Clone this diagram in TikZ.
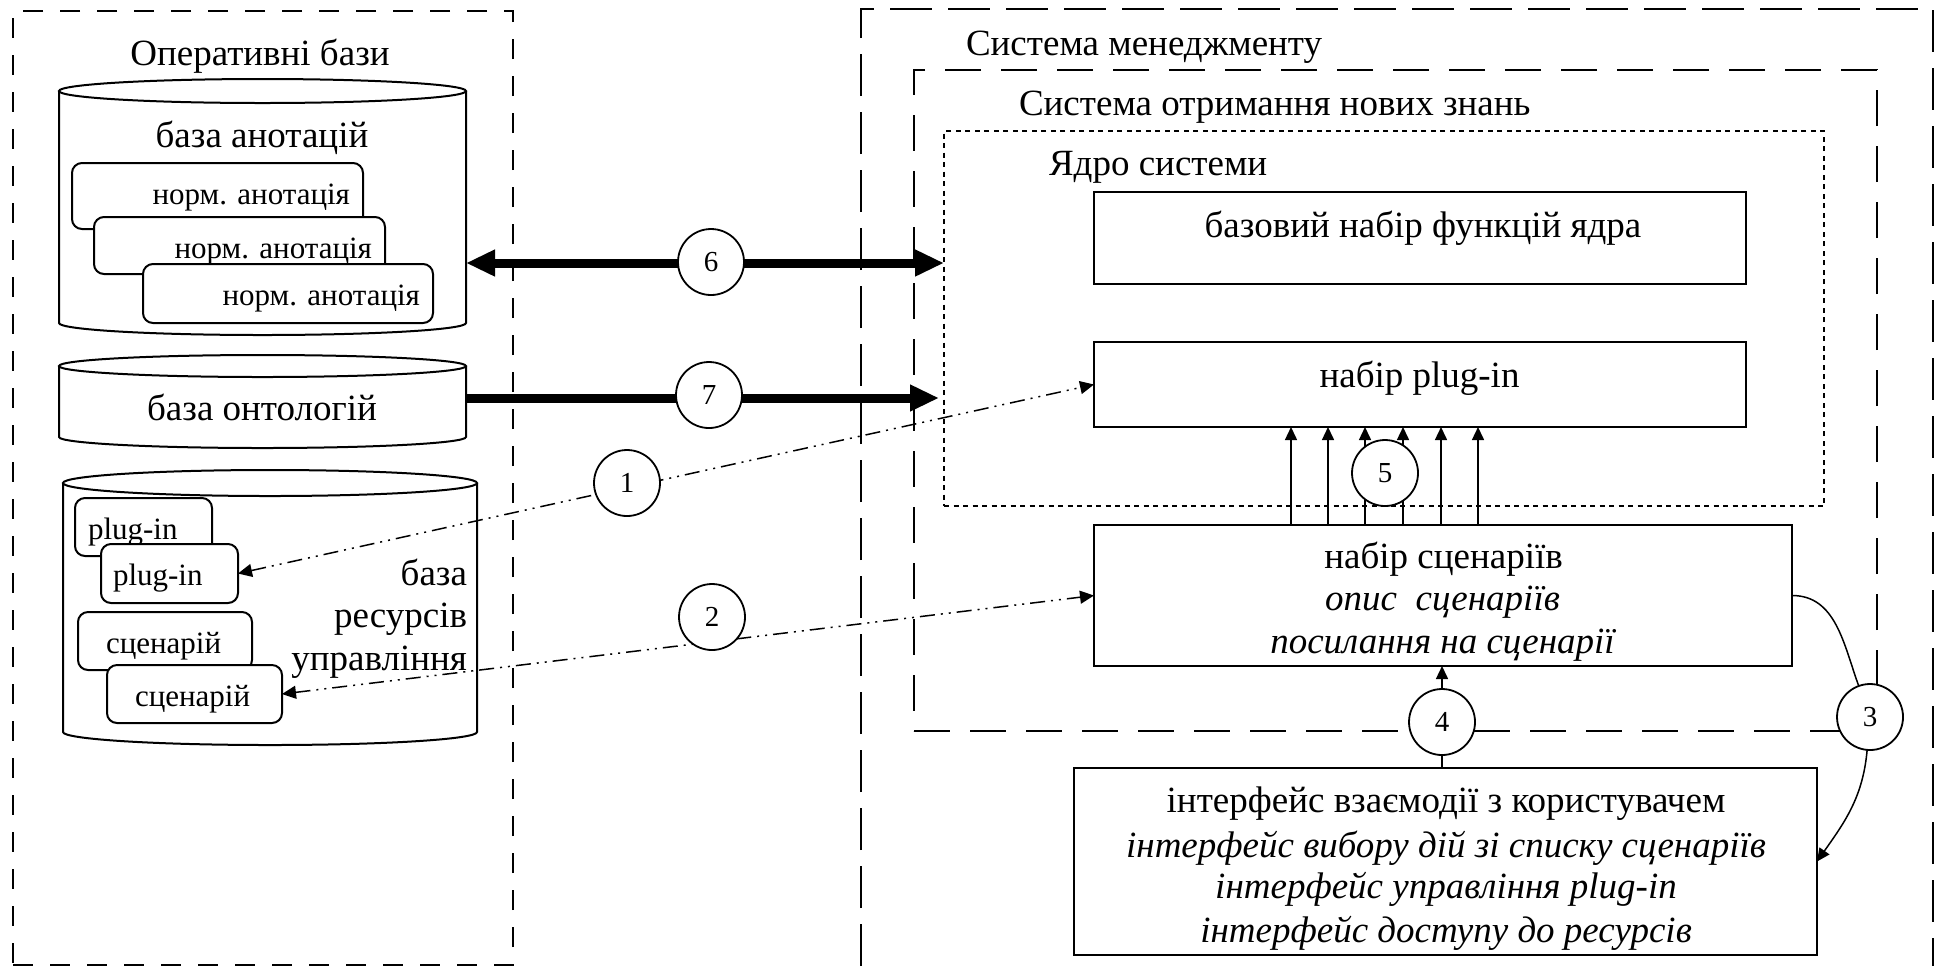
\documentclass[tikz,border=0pt]{standalone}
\usepackage{fontspec}
\setmainfont{Liberation Serif}
\usetikzlibrary{arrows.meta,calc}

% database drum: name, left x, right x, top rim y, bottom rim y, rim half-height
\newcommand\dbdrum[6]{%
  \node[minimum width={(#3-#2)*0.5pt}, minimum height={(#5-#4+2*#6)*0.5pt}] (#1) at ({(#2+#3)/2},{(#4+#5)/2}) {};
  \draw[line width=1pt, fill=white] (#2,#4) -- (#2,#5) arc[start angle=180, end angle=0, x radius={(#3-#2)/2}, y radius=#6] -- (#3,#4);
  \draw[line width=1pt] ({(#2+#3)/2},#4) ellipse[x radius={(#3-#2)/2}, y radius=#6];
}

\begin{document}
\begin{tikzpicture}[
  x=0.5pt, y=-0.5pt,
  every node/.style={inner sep=0pt, outer sep=0pt},
  bigtxt/.style={font=\fontsize{18.5}{22}\selectfont},
  bigit/.style={font=\fontsize{18.5}{22}\selectfont\itshape},
  smalltxt/.style={font=\fontsize{15.5}{18}\selectfont},
  framelft/.style={draw, line width=1.3pt, dash pattern=on 10pt off 8.5pt},
  framemgmt/.style={line width=1.2pt, dash pattern=on 21pt off 8pt},
  framenew/.style={draw, line width=1.2pt, dash pattern=on 18pt off 10pt},
  framecore/.style={draw, line width=1.2pt, dash pattern=on 2.5pt off 2.25pt},
  blk/.style={draw, line width=1pt, fill=white},
  card/.style={draw, line width=1pt, fill=white, rounded corners=5pt},
  numc/.style={circle, draw, line width=0.9pt, fill=white, minimum size=33pt, font=\fontsize{14.5}{16}\selectfont},
  fatarr/.style={line width=4.5pt, -{Triangle[length=14.5pt,width=12.5pt]}},
  fatbi/.style={line width=4.5pt, {Triangle[length=14.5pt,width=12.5pt]}-{Triangle[length=14.5pt,width=12.5pt]}},
  ddlink/.style={line width=0.75pt, dash pattern=on 7.5pt off 3pt on 1pt off 3pt on 1pt off 3pt,
    {Triangle[length=7pt,width=6.5pt]}-{Triangle[length=7pt,width=6.5pt]}},
  thinarr/.style={line width=0.75pt, -{Triangle[length=6.5pt,width=6pt]}},
  thinline/.style={line width=0.75pt},
]
\useasboundingbox (0,0) rectangle (1941,966);

% ---------- operative bases ----------
\node[framelft, minimum width=250pt, minimum height=477pt] (opframe) at (263,488) {};
\node[bigtxt, anchor=base] (optitle) at (260,65) {Оперативні бази};

\dbdrum{annot}{59}{466}{91}{323}{12}
\node[bigtxt, anchor=base] (annottitle) at (262,147) {база анотацій};
\node[card, minimum width=145.5pt, minimum height=33pt] (ann1) at (217.5,196) {};
\node[smalltxt, anchor=base east] (ann1t) at (350,204) {норм. анотація};
\node[card, minimum width=145.5pt, minimum height=28.5pt] (ann2) at (239.5,245.5) {};
\node[smalltxt, anchor=base east] (ann2t) at (372,258) {норм. анотація};
\node[card, minimum width=145pt, minimum height=29.5pt] (ann3) at (288,293.5) {};
\node[smalltxt, anchor=base east] (ann3t) at (420,305) {норм. анотація};

\dbdrum{onto}{59}{466}{366}{437}{11}
\node[bigtxt, anchor=base] (ontotitle) at (262,420) {база онтологій};

\dbdrum{res}{63}{477}{483}{732}{13}
\node[card, minimum width=68.5pt, minimum height=29pt] (plugA) at (143.5,527) {};
\node[smalltxt, anchor=base west] (plugAt) at (88,539) {plug-in};
\node[card, minimum width=68.5pt, minimum height=29.5pt] (plugB) at (169.5,573.5) {};
\node[smalltxt, anchor=base west] (plugBt) at (113,585) {plug-in};
\node[card, minimum width=87pt, minimum height=29pt] (scC) at (165,641) {};
\node[smalltxt, anchor=base west] (scCt) at (106,653) {сценарій};
\node[card, minimum width=87.5pt, minimum height=29pt] (scD) at (194.5,694) {};
\node[smalltxt, anchor=base west] (scDt) at (135,706) {сценарій};
\node[bigtxt, anchor=base east] (res1) at (467,585) {база};
\node[bigtxt, anchor=base east] (res2) at (467,627) {ресурсів};
\node[bigtxt, anchor=base east] (res3) at (467,670) {управління};

% ---------- management system ----------
\draw[framemgmt] (861,966) -- (861,9) -- (1933,9) -- (1933,966);
\node[bigtxt, anchor=base west] (mgmttitle) at (966,55) {Система менеджменту};
\node[framenew, minimum width=481.5pt, minimum height=330.5pt] (newk) at (1395.5,400.5) {};
\node[bigtxt, anchor=base west] (newktitle) at (1019,115) {Система отримання нових знань};
\node[framecore, minimum width=440pt, minimum height=187.5pt] (core) at (1384,318.5) {};
\node[bigtxt, anchor=base west] (coretitle) at (1049,175) {Ядро системи};

\node[blk, minimum width=326pt, minimum height=46pt] (basefn) at (1420,238) {};
\node[bigtxt, anchor=base] (basefnt) at (1423,237) {базовий набір функцій ядра};
\node[blk, minimum width=326pt, minimum height=42.5pt] (plugset) at (1420,384.5) {};
\node[bigtxt, anchor=base] (plugsett) at (1419.5,387) {набір plug-in};

\node[blk, minimum width=349pt, minimum height=70.5pt] (scen) at (1443,595.5) {};
\node[bigtxt, anchor=base] (scen1) at (1443.5,568) {набір сценаріїв};
\node[bigit, anchor=base] (scen2) at (1442.5,610) {опис~~сценаріїв};
\node[bigit, anchor=base] (scen3) at (1442.5,653) {посилання на сценарії};

\node[blk, minimum width=371.5pt, minimum height=93.5pt] (iface) at (1445.5,861.5) {};
\node[bigtxt, anchor=base] (if1) at (1446,812) {інтерфейс взаємодії з користувачем};
\node[bigit, anchor=base] (if2) at (1446,857) {інтерфейс вибору дій зі списку сценаріїв};
\node[bigit, anchor=base] (if3) at (1446,898) {інтерфейс управління plug-in};
\node[bigit, anchor=base] (if4) at (1446,942) {інтерфейс доступу до ресурсів};

% ---------- numbered links ----------
\coordinate (c6) at (711,263);
\coordinate (c7) at (709,398);
\draw[fatbi] (annot.east |- c6) -- (core.west |- c6);
\draw[fatarr, shorten >=2.5pt] (onto.east |- c7) -- (core.west |- c7);
\draw[ddlink] (plugB.east) -- (plugset.west);
\draw[ddlink] (scD.east) -- (scen.west);
\foreach \d in {-152,-115,-78,-40,-2,35}
  \draw[thinarr] ($(scen.north)+(\d,0)$) -- ($(plugset.south)+(\d+23,0)$);

\node[numc] (n6) at (711,262) {6};
\node[numc] (n7) at (709,395) {7};
\node[numc] (n1) at (627,483) {1};
\node[numc] (n2) at (712,617) {2};
\node[numc] (n5) at (1385,473) {5};
\node[numc] (n4) at (1442,722) {4};
\node[numc] (n3) at (1870,717) {3};

\draw[thinarr] (n4) -- (n4 |- scen.south);
\draw[thinline] (n4) -- (n4 |- iface.north);
% angles of the curved link are screen angles
\draw[thinline] (scen.east) to[out=0, in=110] (n3);
\draw[thinarr] (n3) to[out=265, in=55] (iface.east);
\end{tikzpicture}
\end{document}
